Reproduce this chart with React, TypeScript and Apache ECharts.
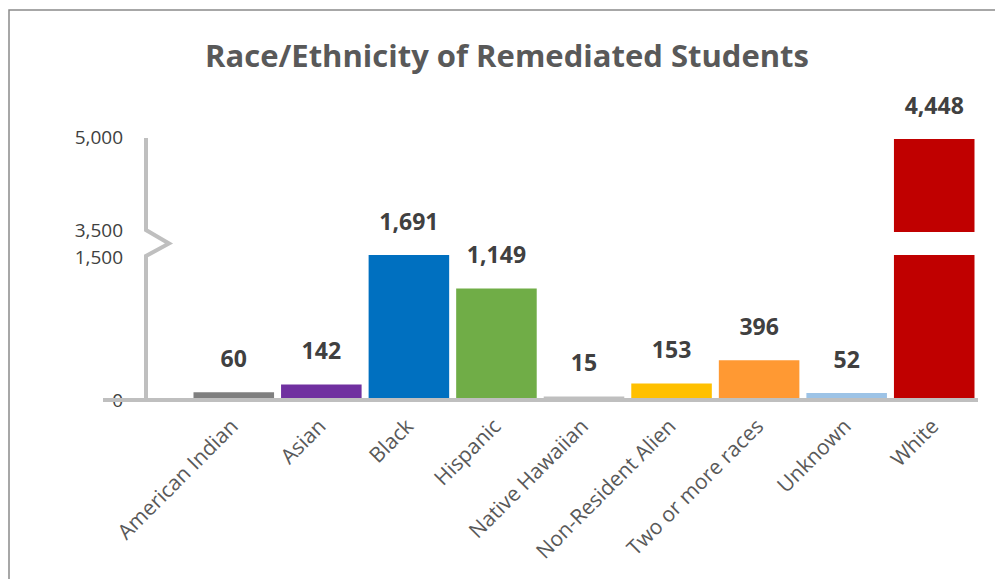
import React, { useEffect, useRef } from 'react';
import * as echarts from 'echarts';

const categories = [
  'American Indian',
  'Asian',
  'Black',
  'Hispanic',
  'Native Hawaiian',
  'Non-Resident Alien',
  'Two or more races',
  'Unknown',
  'White',
];
const values = [60, 142, 1691, 1149, 15, 153, 396, 52, 4448];
const colors = ['#7f7f7f', '#7030a0', '#0070c0', '#70ad47', '#bfbfbf', '#ffc000', '#ff9933', '#9dc3e6', '#c00000'];
const lowerTicks = [0, 1500];
const upperTicks = [3500, 5000];
const title = 'Race/Ethnicity of Remediated Students';

const FONT = '"Open Sans", sans-serif';
const fmt = (v: number) => v.toLocaleString('en-US');

export default function App() {
  const ref = useRef<HTMLDivElement>(null);
  useEffect(() => {
    document.body.style.margin = '0';
    if (!ref.current) return;
    const chart = echarts.init(ref.current, null, { renderer: 'svg' });
    const lowerMax = lowerTicks[1];
    const upperMin = upperTicks[0];
    const upperMax = upperTicks[1];
    const gridLeft = 190;
    const gridRight = 17;

    const labelStyle = {
      position: 'top' as const,
      distance: 23,
      fontFamily: FONT,
      fontSize: 23,
      fontWeight: 'bold' as const,
      color: '#404040',
      formatter: (p: any) => fmt(values[p.dataIndex]),
    };
    const yLabel = {
      margin: 67,
      fontFamily: FONT,
      fontSize: 19,
      lineHeight: 4,
      color: '#404040',
      formatter: fmt,
    };

    chart.setOption({
      animation: false,
      backgroundColor: '#ffffff',
      textStyle: { fontFamily: FONT },
      grid: [
        { left: gridLeft, right: gridRight, top: 255, height: 143 },
        { left: gridLeft, right: gridRight, top: 139, height: 93 },
      ],
      xAxis: [
        {
          type: 'category',
          gridIndex: 0,
          data: categories,
          axisLine: { show: false },
          axisTick: { show: false },
          axisLabel: {
            rotate: 45,
            interval: 0,
            margin: 24,
            fontFamily: FONT,
            fontSize: 21,
            color: '#595959',
          },
        },
        {
          type: 'category',
          gridIndex: 1,
          data: categories,
          show: false,
        },
      ],
      yAxis: [
        {
          type: 'value',
          gridIndex: 0,
          min: lowerTicks[0],
          max: lowerMax,
          interval: lowerMax - lowerTicks[0],
          axisLine: { show: false },
          axisTick: { show: false },
          splitLine: { show: false },
          axisLabel: { ...yLabel, verticalAlign: 'top' },
        },
        {
          type: 'value',
          gridIndex: 1,
          min: upperMin,
          max: upperMax,
          interval: upperMax - upperMin,
          axisLine: { show: false },
          axisTick: { show: false },
          splitLine: { show: false },
          axisLabel: { ...yLabel, verticalAlign: 'bottom' },
        },
      ],
      series: [
        {
          type: 'bar',
          xAxisIndex: 0,
          yAxisIndex: 0,
          barCategoryGap: '8%',
          data: values.map((v, i) => ({
            value: Math.min(v, lowerMax),
            itemStyle: { color: colors[i] },
            label: { show: v < upperMin },
          })),
          label: { show: true, ...labelStyle },
        },
        {
          type: 'bar',
          xAxisIndex: 1,
          yAxisIndex: 1,
          barCategoryGap: '8%',
          clip: true,
          data: values.map((v, i) =>
            v >= upperMin ? { value: upperMax, itemStyle: { color: colors[i] } } : '-'
          ),
          label: { show: true, ...labelStyle },
        },
      ],
    });

    const y0 = chart.convertToPixel({ yAxisIndex: 0 }, lowerTicks[0]) as number;
    const y1500 = chart.convertToPixel({ yAxisIndex: 0 }, lowerMax) as number;
    const y3500 = chart.convertToPixel({ yAxisIndex: 1 }, upperMin) as number;
    const y5000 = chart.convertToPixel({ yAxisIndex: 1 }, upperMax) as number;
    const W = chart.getWidth();
    const axisX = gridLeft - 44;
    const axisColor = '#bfbfbf';

    chart.setOption({
      graphic: [
        {
          type: 'polyline',
          silent: true,
          z: 0,
          shape: {
            points: [
              [9, 580],
              [9, 10],
              [1000, 10],
            ],
          },
          style: { stroke: '#8a8a8a', lineWidth: 1.5, fill: 'none' },
        },
        {
          type: 'text',
          x: 507,
          y: 55,
          style: {
            text: title,
            fontFamily: FONT,
            fontSize: 31,
            fontWeight: 'bold',
            fill: '#595959',
            align: 'center',
            verticalAlign: 'middle',
          },
        },
        {
          type: 'polyline',
          silent: true,
          z: 1,
          shape: {
            points: [
              [axisX, y5000 - 1],
              [axisX, y3500 - 2],
              [axisX + 23, (y3500 + y1500) / 2],
              [axisX, y1500 + 1],
              [axisX, y0 + 2],
            ],
          },
          style: { stroke: axisColor, lineWidth: 4, fill: 'none', lineJoin: 'miter' },
        },
        {
          type: 'line',
          silent: true,
          z: 1,
          shape: { x1: 103, y1: y0 + 2, x2: W - gridRight, y2: y0 + 2 },
          style: { stroke: axisColor, lineWidth: 4 },
        },
      ],
    });

    return () => chart.dispose();
  }, []);
  return <div ref={ref} style={{ width: 995, height: 579 }} />;
}
